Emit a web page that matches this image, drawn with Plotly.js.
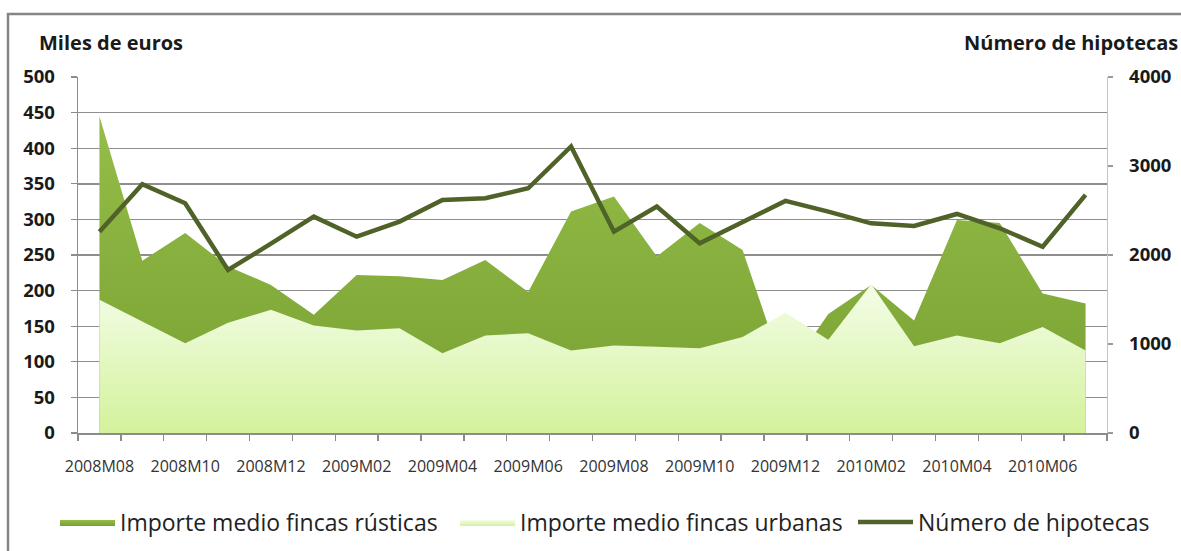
<!DOCTYPE html>
<html><head><meta charset="utf-8">
<script src="https://cdn.plot.ly/plotly-3.0.1.min.js"></script>
<style>html,body{margin:0;padding:0;background:#fff;} #chart{width:1181px;height:551px;}</style>
</head><body><div id="chart"></div>
<script>
const categories = ['2008M08','2008M09','2008M10','2008M11','2008M12','2009M01','2009M02','2009M03',
  '2009M04','2009M05','2009M06','2009M07','2009M08','2009M09','2009M10','2009M11','2009M12',
  '2010M01','2010M02','2010M03','2010M04','2010M05','2010M06','2010M07'];
const tickLabels = ['2008M08','2008M10','2008M12','2009M02','2009M04','2009M06','2009M08',
  '2009M10','2009M12','2010M02','2010M04','2010M06'];
const rusticas = [445,242,281,234,208,166,222,220,215,243,198,311,332,248,295,257,80,167,208,158,299,295,196,182];
const urbanas  = [187,156,126,155,173,151,144,147,112,137,140,116,123,121,119,135,169,131,209,122,137,126,149,116];
const hipotecas = [2262,2795,2581,1831,2127,2431,2206,2375,2619,2637,2750,3219,2262,2544,2131,2375,2608,2488,2356,2326,2461,2300,2093,2675];
const seriesNames = ['Importe medio fincas rústicas','Importe medio fincas urbanas','Número de hipotecas'];
const leftTitle = 'Miles de euros';
const rightTitle = 'Número de hipotecas';

const W = 1181, H = 551, L = 78, R = 74, T = 77, B = 118;
const pw = W - L - R, ph = H - T - B;
const px = v => (v - L) / pw;
const py = v => (H - B - v) / ph;
const FONT = 'Open Sans, Lato, sans-serif';

const xTickText = categories.map(c => tickLabels.includes(c) ? c : '');

const traces = [
  {
    type: 'scatter', mode: 'lines', name: seriesNames[0], legend: 'legend',
    x: categories, y: rusticas, fill: 'tozeroy',
    line: {width: 0, color: '#86ad3c'},
    fillcolor: '#86ad3c',
    fillgradient: {type: 'vertical', colorscale: [[0, '#77a032'], [1, '#95bd48']]},
    hoverinfo: 'x+y'
  },
  {
    type: 'scatter', mode: 'lines', name: seriesNames[1], legend: 'legend2',
    x: categories, y: urbanas, fill: 'tozeroy',
    line: {width: 0, color: '#dff7b8'},
    fillcolor: '#e4f8c4',
    fillgradient: {type: 'vertical', colorscale: [[0, '#d3f29c'], [1, '#f4fde8']]},
    hoverinfo: 'x+y'
  },
  {
    type: 'scatter', mode: 'lines', name: seriesNames[2], legend: 'legend3',
    x: categories, y: hipotecas, yaxis: 'y2',
    line: {width: 4.5, color: '#4f6228'},
    hoverinfo: 'x+y'
  }
];

const legendBase = {
  orientation: 'h', xanchor: 'left', y: py(522), yanchor: 'middle',
  font: {family: FONT, size: 23, color: '#222'},
  itemwidth: 55, bgcolor: 'rgba(0,0,0,0)'
};

const layout = {
  width: W, height: H,
  margin: {l: L, r: R, t: T, b: B, pad: 0, autoexpand: false},
  paper_bgcolor: '#ffffff', plot_bgcolor: '#ffffff',
  font: {family: FONT, color: '#222'},
  showlegend: true,
  legend: Object.assign({}, legendBase, {x: px(55)}),
  legend2: Object.assign({}, legendBase, {x: px(455)}),
  legend3: Object.assign({}, legendBase, {x: px(853)}),
  xaxis: {
    type: 'category', range: [-0.5, categories.length - 0.5],
    tickmode: 'array', tickvals: categories, ticktext: xTickText,
    tickson: 'boundaries', tickangle: 0, automargin: false,
    ticks: 'outside', ticklen: 6, tickcolor: '#8c8c8c', tickwidth: 1.3,
    showline: true, linecolor: '#8c8c8c', linewidth: 1.5,
    showgrid: false, zeroline: false,
    tickfont: {family: FONT, size: 16, color: '#333'},
    ticklabelstandoff: 18, fixedrange: true
  },
  yaxis: {
    range: [0, 500], dtick: 50, tick0: 0, automargin: false,
    showgrid: true, gridcolor: '#8e8e8e', gridwidth: 1.4,
    ticks: 'outside', ticklen: 6, tickcolor: '#8c8c8c', tickwidth: 1.3,
    showline: true, linecolor: '#8c8c8c', linewidth: 1.4,
    zeroline: false,
    tickfont: {family: FONT, size: 18.5, color: '#1a1a1a', weight: 'bold'},
    ticklabelstandoff: 12, fixedrange: true
  },
  yaxis2: {
    overlaying: 'y', side: 'right', anchor: 'x', automargin: false,
    range: [0, 4000], dtick: 1000, tick0: 0,
    showgrid: false, zeroline: false,
    ticks: 'outside', ticklen: 5, tickcolor: '#9a9a9a', tickwidth: 1.3,
    showline: true, linecolor: '#c4c4c4', linewidth: 1.4,
    tickfont: {family: FONT, size: 18.5, color: '#1a1a1a', weight: 'bold'},
    ticklabelstandoff: 12, fixedrange: true
  },
  annotations: [
    {text: leftTitle, xref: 'paper', yref: 'paper', x: px(37), y: py(42),
     xanchor: 'left', yanchor: 'middle', showarrow: false,
     font: {family: FONT, size: 20, color: '#1a1a1a', weight: 'bold'}},
    {text: rightTitle, xref: 'paper', yref: 'paper', x: px(1180), y: py(42),
     xanchor: 'right', yanchor: 'middle', showarrow: false,
     font: {family: FONT, size: 20, color: '#1a1a1a', weight: 'bold'}}
  ],
  shapes: [
    {type: 'rect', xref: 'paper', yref: 'paper', layer: 'below',
     x0: px(8), x1: px(1190), y0: py(560), y1: py(14),
     line: {color: '#868686', width: 2.5}, fillcolor: 'rgba(0,0,0,0)'}
  ]
};

Plotly.newPlot('chart', traces, layout, {displayModeBar: false, staticPlot: true});
</script>
</body></html>
